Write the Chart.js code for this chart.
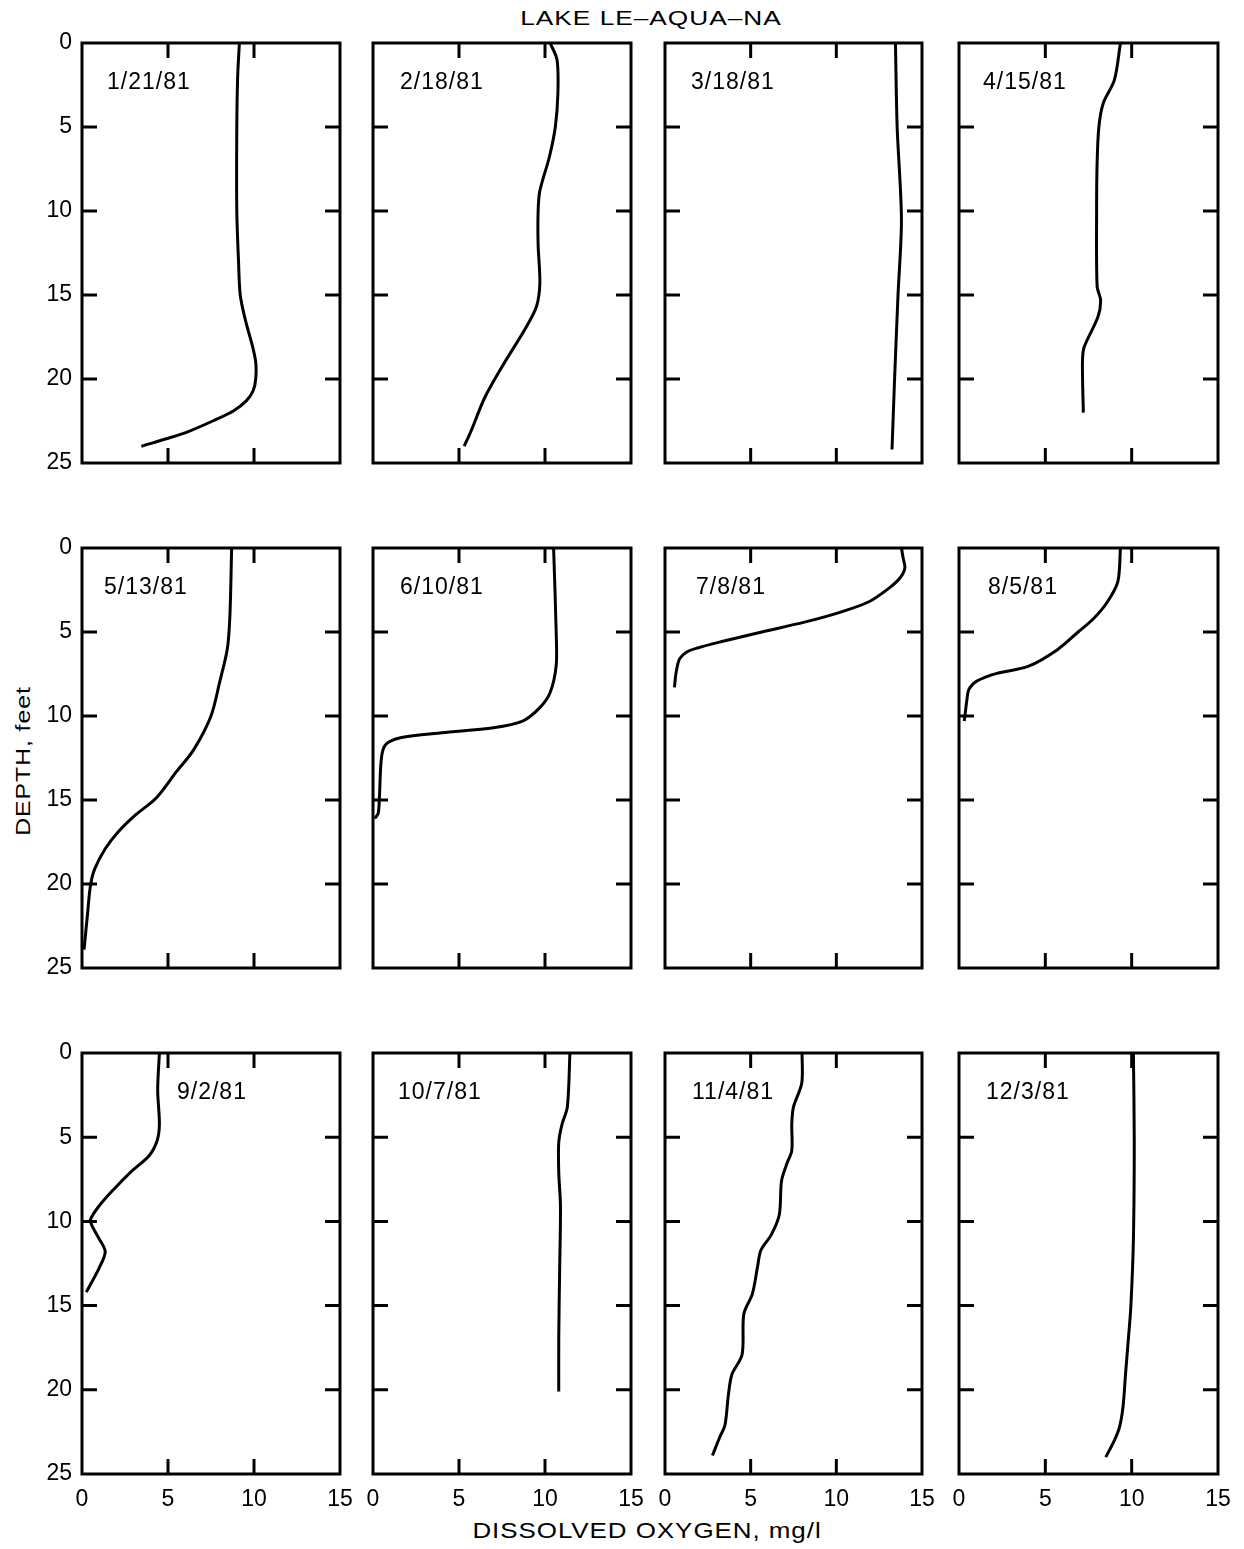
<!DOCTYPE html>
<html>
<head>
<meta charset="utf-8">
<title>Lake Le-Aqua-Na dissolved oxygen profiles, 1981</title>
<script src="https://cdn.jsdelivr.net/npm/chart.js@4.4.1/dist/chart.umd.min.js"></script>
<style>
  body { margin: 0; background: #fff; width: 1244px; height: 1549px; position: relative; overflow: hidden;
         font-family: "Liberation Sans", Arial, sans-serif; color: #000; }
  canvas { position: absolute; }
  .txt { position: absolute; white-space: nowrap; line-height: 1; }
  #title { left: 651px; top: 7px; font-size: 21px; letter-spacing: 0.8px; transform: translateX(-50%) scaleX(1.25); }
  #xtitle { left: 647px; top: 1520px; font-size: 22px; letter-spacing: 0.8px; transform: translateX(-50%) scaleX(1.18); }
  #ytitle { left: 22px; top: 761px; font-size: 21px; letter-spacing: 0.8px; transform: translate(-50%, -50%) rotate(-90deg) scaleX(1.18); }
</style>
</head>
<body>
<div class="txt" id="title">LAKE LE–AQUA–NA</div>
<div class="txt" id="xtitle">DISSOLVED OXYGEN, mg/l</div>
<div class="txt" id="ytitle">DEPTH, feet</div>
<script>
// sampling dates, one panel each
const dates = ['1/21/81', '2/18/81', '3/18/81', '4/15/81', '5/13/81', '6/10/81',
               '7/8/81', '8/5/81', '9/2/81', '10/7/81', '11/4/81', '12/3/81'];

// depth in feet / dissolved oxygen in mg/l
const depthJan = [0, 2, 5, 10, 13, 15, 16.5, 18, 19, 20, 20.7, 21.3, 21.9, 22.5, 23.1, 23.5, 24];
const oxyJan   = [9.15, 9.05, 9.0, 9.0, 9.1, 9.2, 9.5, 9.9, 10.1, 10.1, 9.95, 9.55, 8.8, 7.6, 6.25, 5.1, 3.45];

const depthFeb = [0, 1, 3, 5, 6.8, 8.8, 10, 12, 14.3, 15.7, 17.1, 19.1, 21.1, 23.1, 24];
const oxyFeb   = [10.3, 10.7, 10.75, 10.6, 10.25, 9.7, 9.6, 9.6, 9.7, 9.5, 8.8, 7.6, 6.5, 5.7, 5.3];

const depthMar = [0, 5, 10.5, 15, 20, 24.2];
const oxyMar   = [13.45, 13.55, 13.8, 13.6, 13.4, 13.25];

const depthApr = [0, 2.2, 3.6, 5, 7.1, 9.9, 14.5, 15.3, 16.3, 18.1, 19.0, 22.0];
const oxyApr   = [9.35, 9.0, 8.35, 8.1, 8.0, 7.97, 8.0, 8.2, 8.05, 7.25, 7.15, 7.2];

const depthMay = [0, 4, 6, 8, 10, 12, 13.3, 14.9, 15.9, 16.9, 17.9, 19.1, 20.1, 21.8, 23.9];
const oxyMay   = [8.7, 8.6, 8.45, 8.0, 7.5, 6.5, 5.5, 4.3, 3.1, 2.1, 1.35, 0.74, 0.49, 0.32, 0.12];

const depthJun = [0, 5, 7, 8.6, 9.5, 10.3, 10.7, 11.0, 11.3, 11.7, 12.5, 14.9, 15.8, 16.1];
const oxyJun   = [10.5, 10.65, 10.65, 10.3, 9.7, 8.7, 7.0, 4.0, 1.6, 0.74, 0.49, 0.37, 0.3, 0.1];

const depthJul = [0, 0.6, 1.2, 1.8, 2.4, 3.2, 3.8, 4.4, 5.0, 5.6, 5.95, 6.2, 6.6, 7.4, 8.3];
const oxyJul   = [13.8, 13.9, 14.0, 13.7, 13.06, 11.9, 10.3, 8.2, 5.65, 3.2, 1.9, 1.25, 0.85, 0.65, 0.55];

const depthAug = [0, 2, 3.2, 4.2, 5.0, 6.05, 7.05, 7.46, 7.9, 8.4, 9.1, 10.1, 10.3];
const oxyAug   = [9.35, 9.2, 8.6, 7.8, 6.9, 5.7, 4.0, 2.2, 1.06, 0.58, 0.45, 0.33, 0.3];

const depthSep = [0, 2.2, 4.2, 5.2, 6.1, 7.1, 8.1, 9.1, 9.9, 10.3, 11.0, 11.8, 12.8, 14.2];
const oxySep   = [4.5, 4.4, 4.5, 4.37, 3.9, 2.8, 1.84, 0.98, 0.49, 0.6, 0.98, 1.35, 0.98, 0.25];

const depthOct = [0, 3.2, 4.2, 5.3, 7.1, 9.1, 13, 16.9, 20.1];
const oxyOct   = [11.45, 11.3, 11.0, 10.8, 10.8, 10.9, 10.85, 10.8, 10.8];

const depthNov = [0, 1.8, 3.2, 4.2, 5.8, 6.6, 7.6, 9.6, 10.8, 11.7, 12.7, 14.3, 15.5, 17.9, 19.1, 20.3, 22.1, 22.8, 23.9];
const oxyNov   = [8.0, 7.98, 7.5, 7.4, 7.4, 7.1, 6.8, 6.67, 6.2, 5.6, 5.4, 5.1, 4.6, 4.5, 3.9, 3.7, 3.5, 3.2, 2.77];

const depthDec = [0, 5.2, 11.1, 15.1, 17.1, 19.0, 21.0, 22.2, 23.0, 24.0];
const oxyDec   = [10.1, 10.15, 10.1, 9.95, 9.8, 9.65, 9.5, 9.3, 9.0, 8.5];

const oxygenTicks = [0, 5, 10, 15];
const depthTicks  = [0, 5, 10, 15, 20, 25];

const profiles = [
  [depthJan, oxyJan], [depthFeb, oxyFeb], [depthMar, oxyMar], [depthApr, oxyApr],
  [depthMay, oxyMay], [depthJun, oxyJun], [depthJul, oxyJul], [depthAug, oxyAug],
  [depthSep, oxySep], [depthOct, oxyOct], [depthNov, oxyNov], [depthDec, oxyDec]
];

// panel frames on the page (plot area edges, px)
const colLeft   = [82, 373, 665, 959];
const colRight  = [340, 631, 922, 1218];
const rowTop    = [43, 548, 1053];
const rowBottom = [463, 968, 1474];
const dateDx = [25, 27, 26, 24, 22, 27, 31, 29, 95, 25, 27, 27];

const YW = 70, XH = 46, PADT = 40, PADR = 40, TICK = 15;
const FONT = '"Liberation Sans", Arial, sans-serif';

// box round the plot, inward ticks on all four sides, date in the corner
const frameTicks = {
  id: 'frameTicks',
  afterDatasetsDraw(chart, args, opts) {
    const { ctx, chartArea: a, scales: { x, y } } = chart;
    ctx.save();
    ctx.strokeStyle = '#000';
    ctx.lineWidth = 3;
    ctx.strokeRect(a.left, a.top, a.right - a.left, a.bottom - a.top);
    ctx.beginPath();
    x.ticks.forEach(t => {
      if (t.value <= x.min || t.value >= x.max) return;
      const px = x.getPixelForValue(t.value);
      ctx.moveTo(px, a.top); ctx.lineTo(px, a.top + TICK);
      ctx.moveTo(px, a.bottom); ctx.lineTo(px, a.bottom - TICK);
    });
    y.ticks.forEach(t => {
      if (t.value <= y.min || t.value >= y.max) return;
      const py = y.getPixelForValue(t.value);
      ctx.moveTo(a.left, py); ctx.lineTo(a.left + TICK, py);
      ctx.moveTo(a.right, py); ctx.lineTo(a.right - TICK, py);
    });
    ctx.stroke();
    ctx.fillStyle = '#000';
    ctx.font = '23px ' + FONT;
    ctx.letterSpacing = '1px';
    ctx.textBaseline = 'middle';
    ctx.textAlign = 'left';
    ctx.fillText(opts.label, a.left + opts.dx, a.top + 40);
    ctx.restore();
  }
};

profiles.forEach(([depth, oxy], i) => {
  const col = i % 4, row = Math.floor(i / 4);
  const L = colLeft[col], R = colRight[col], T = rowTop[row], B = rowBottom[row];
  const cv = document.createElement('canvas');
  cv.width = (R - L) + YW + PADR;
  cv.height = (B - T) + PADT + XH;
  cv.style.left = (L - YW) + 'px';
  cv.style.top = (T - PADT) + 'px';
  cv.style.width = cv.width + 'px';
  cv.style.height = cv.height + 'px';
  document.body.appendChild(cv);

  new Chart(cv, {
    type: 'scatter',
    data: {
      datasets: [{
        data: depth.map((d, k) => ({ x: oxy[k], y: d })),
        showLine: true,
        borderColor: '#000',
        borderWidth: 3,
        pointRadius: 0,
        tension: 0.3,
        fill: false
      }]
    },
    options: {
      responsive: false,
      animation: false,
      devicePixelRatio: 1,
      layout: { padding: { top: PADT, right: PADR, left: 0, bottom: 0 } },
      plugins: {
        legend: { display: false },
        tooltip: { enabled: false },
        frameTicks: { label: dates[i], dx: dateDx[i] }
      },
      scales: {
        x: {
          type: 'linear',
          min: oxygenTicks[0],
          max: oxygenTicks[oxygenTicks.length - 1],
          afterBuildTicks: s => { s.ticks = oxygenTicks.map(v => ({ value: v })); },
          afterFit: s => { s.height = XH; },
          grid: { display: false, drawTicks: false },
          border: { display: false },
          ticks: {
            display: row === 2,
            padding: 12,
            color: '#000',
            font: { family: FONT, size: 23 },
            maxRotation: 0,
            autoSkip: false
          }
        },
        y: {
          type: 'linear',
          reverse: true,
          min: depthTicks[0],
          max: depthTicks[depthTicks.length - 1],
          afterBuildTicks: s => { s.ticks = depthTicks.map(v => ({ value: v })); },
          afterFit: s => { s.width = YW; },
          grid: { display: false, drawTicks: false },
          border: { display: false },
          ticks: {
            display: col === 0,
            padding: 10,
            color: '#000',
            font: { family: FONT, size: 23 },
            autoSkip: false
          }
        }
      }
    },
    plugins: [frameTicks]
  });
});
</script>
</body>
</html>
